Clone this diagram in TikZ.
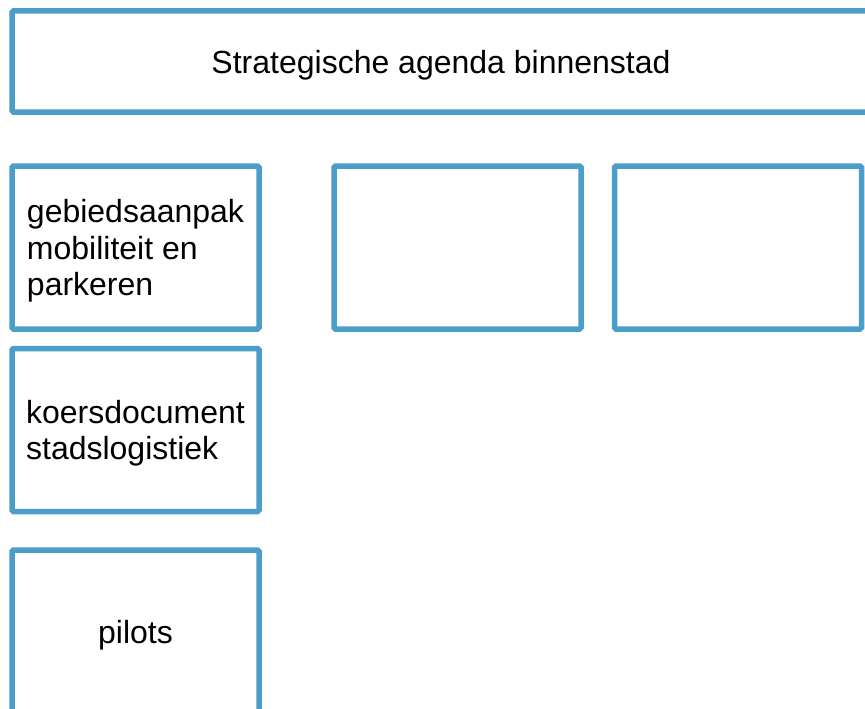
\documentclass[tikz,border=0pt]{standalone}
\usepackage{fontspec}
\setmainfont{Liberation Sans}
\usetikzlibrary{positioning}
\definecolor{boxblue}{RGB}{75,157,202}

\begin{document}
\begin{tikzpicture}[x=1pt,y=-1pt,
  box/.style={draw=boxblue,line width=5.5pt,rounded corners=1.5pt,fill=white,inner sep=0pt,align=left,
    text depth=0pt,minimum width=247pt,minimum height=163pt,font=\fontsize{32}{36.5}\selectfont}]
\clip (0,0) rectangle (865,709);

\node[box,minimum width=858pt,minimum height=101pt] (agenda) at (441,61.5) {Strategische agenda binnenstad};

\node[box] (gebied) at (135.5,247.5) {gebiedsaanpak\\mobiliteit en\\parkeren};
\node[box] (koers) at (135.5,430) {koersdocument\\stadslogistiek};
\node[box] (pilots) at (135.5,631.5) {pilots};

\foreach \x/\name in {457.5/leeg1,738/leeg2} \node[box] (\name) at (\x,247.5) {};

\end{tikzpicture}
\end{document}
